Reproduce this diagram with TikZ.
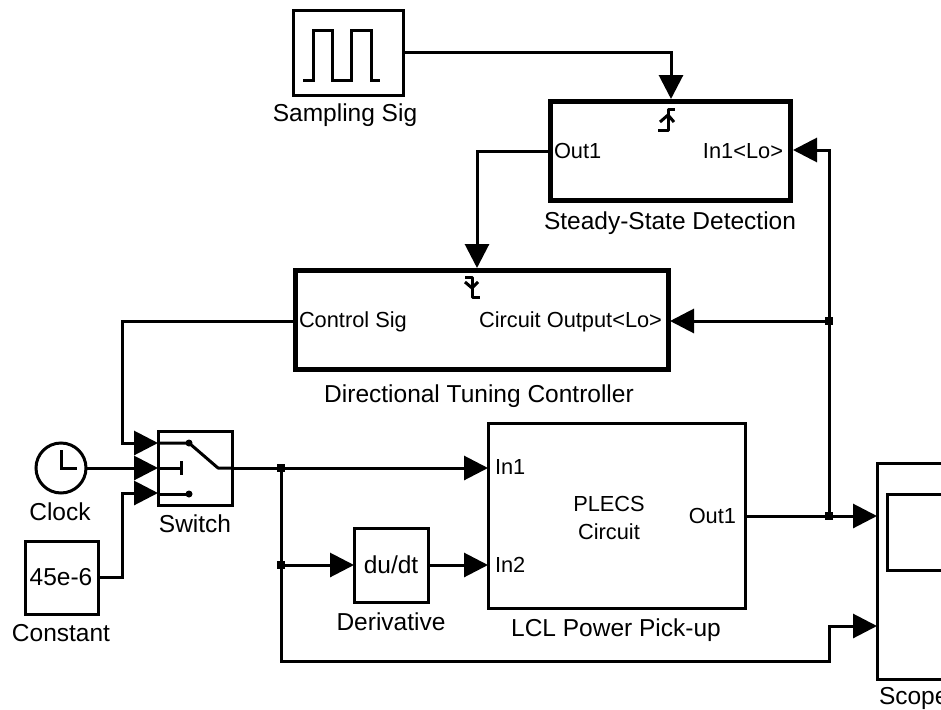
\documentclass[tikz,border=0pt]{standalone}
\usepackage{fontspec}
\setmainfont{Liberation Sans}
\usetikzlibrary{arrows.meta}
\tikzset{
  x=1pt,y=-1pt,
  every node/.style={inner sep=0pt,outer sep=0pt,font=\fontsize{21.8}{28}\selectfont},
  biglabel/.style={font=\fontsize{24.5}{28}\selectfont},
  blockbox/.style={draw=black,line width=3pt,fill=white,minimum width=#1,anchor=north west},
  wire/.style={draw=black,line width=3pt,line join=miter},
  sig/.style={wire,-{Triangle[length=24pt,width=24pt,inset=0pt,sep=0pt]}},
  icon/.style={draw=black,line width=3pt,line join=round},
  junction/.style={fill=black,minimum size=8pt,draw=none,shape=rectangle},
  dotmark/.style={fill=black,circle,minimum size=7pt,draw=none},
  heavy/.style={draw=black,line width=5pt,fill=white,anchor=north west},
}
\begin{document}
\begin{tikzpicture}[line cap=butt]
\useasboundingbox (0,0) rectangle (941,709);
\clip (0,0) rectangle (941,709);
\fill[white] (0,0) rectangle (941,709);

% blocks
\node[blockbox=110pt,minimum height=84pt] (samp) at (293,11) {};
\node[heavy,minimum width=240pt,minimum height=99pt] (ssd) at (550,101) {};
\node[heavy,minimum width=373pt,minimum height=99pt] (dtc) at (295,270) {};
\node[blockbox=74pt,minimum height=74pt] (sw) at (158,431) {};
\node[draw=black,line width=3pt,circle,minimum size=50pt,fill=white] (clk) at (61,468) {};
\node[blockbox=73pt,minimum height=73pt] (const) at (25,541) {};
\node[blockbox=74pt,minimum height=74pt] (der) at (354,528) {};
\node[blockbox=257pt,minimum height=185pt] (lcl) at (488,423) {};
\node[blockbox=150pt,minimum height=216pt] (scope) at (877,463) {};
\node[blockbox=100pt,minimum height=76pt] (scopescr) at (887,494) {};

% port coordinates
\coordinate (sampout) at (403,53);
\coordinate (ssdtrig) at (671,99);
\coordinate (ssdout) at (548,151);
\coordinate (ssdin) at (793,150);
\coordinate (dtctrig) at (477,268);
\coordinate (dtcout) at (293,321);
\coordinate (dtcin) at (670,321);
\coordinate (sw1) at (158,443);
\coordinate (sw2) at (158,468);
\coordinate (sw3) at (158,493);
\coordinate (swout) at (232,468);
\coordinate (constout) at (98,577);
\coordinate (lclin1) at (488,468);
\coordinate (lclin2) at (488,565);
\coordinate (lclout) at (745,516);
\coordinate (derin) at (354,565);
\coordinate (derout) at (428,565);
\coordinate (scopein1) at (877,516);
\coordinate (scopein2) at (877,626);

% junctions
\node[junction] (j1) at (281,468) {};
\node[junction] (j2) at (281,565) {};
\node[junction] (j3) at (829,516) {};
\node[junction] (j4) at (829,321) {};

% wires
\draw[sig] (sampout) -| (ssdtrig);
\draw[sig] (ssdout) -| (dtctrig);
\draw[sig] (j4.center) |- (ssdin);
\draw[sig] (j4.center) -- (dtcin);
\draw[wire] (j3.center) -- (j4.center);
\draw[sig] (dtcout) -- (122,321) |- (sw1);
\draw[sig] (clk.east) -- (sw2);
\draw[sig] (constout) -- (122,577) |- (sw3);
\draw[sig] (swout) -- (lclin1);
\draw[wire] (j1.center) -- (j2.center);
\draw[sig] (j2.center) -- (derin);
\draw[sig] (derout) -- (lclin2);
\draw[sig] (lclout) -- (scopein1);
\draw[sig] (j2.center) -- (281,661) -- (829,661) |- (scopein2);

% icons: pulse
\draw[icon,line join=miter] (303,80) -- (313,80) -- (313,31) -- (332,31) -- (332,80) -- (351,80) -- (351,31) -- (371,31) -- (371,80) -- (380,80);
% clock hands
\draw[icon,line join=miter] (61,450) -- (61,468) -- (77,468);
% switch
\draw[icon] (sw1) -- (189,443) -- (218,468) -- (swout);
\draw[icon] (sw2) -- (181,468);
\draw[icon] (181,461) -- (181,475);
\draw[icon] (158,494) -- (189,494);
\node[dotmark] (d1) at (189,443) {};
\node[dotmark] (d2) at (189,494) {};
% triggers
\draw[icon] (658,130) -- (668,130) -- (668,109) -- (675,109);
\draw[icon] (660,122) -- (668,115) -- (674,122);
\draw[icon] (465,277) -- (472,277) -- (472,297) -- (480,297);
\draw[icon] (465,282) -- (472,288) -- (478,282);

% labels
\node[biglabel] (lsamp) at (345,115) {Sampling Sig};
\node[biglabel] (lssd) at (670,223) {Steady-State Detection};
\node[biglabel] (ldtc) at (479,396) {Directional Tuning Controller};
\node[biglabel] (lclk) at (60,512) {Clock};
\node[biglabel] (lsw) at (195,524) {Switch};
\node[biglabel] (lconst) at (61,633) {Constant};
\node[biglabel] (lder) at (391,622) {Derivative};
\node[biglabel] (llcl) at (616,630) {LCL Power Pick-up};
\node[biglabel,anchor=west] (lscope) at (879,698) {Scope};
\node[anchor=west] (pout) at (554,151) {Out1};
\node[anchor=east] (pin) at (783,151) {In1<Lo>};
\node[anchor=west] (pctl) at (299,322) {Control Sig};
\node[anchor=east] (pcir) at (662,322) {Circuit Output<Lo>};
\node[anchor=west] (pin1) at (495,467) {In1};
\node[anchor=west] (pin2) at (495,565) {In2};
\node[anchor=east] (pout1) at (736,516) {Out1};
\node[align=center] (plecs) at (609,518) {PLECS\\Circuit};
\node[biglabel] (tconst) at (61,577) {45e-6};
\node[biglabel] (tder) at (391,565) {du/dt};
\end{tikzpicture}
\end{document}
